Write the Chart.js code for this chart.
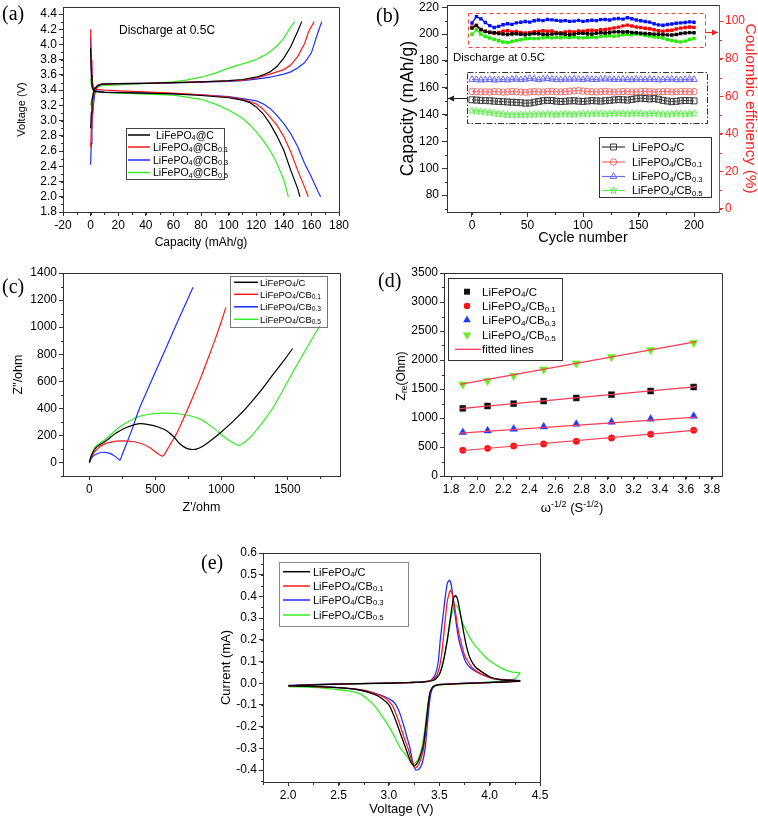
<!DOCTYPE html>
<html><head><meta charset="utf-8"><title>LiFePO4 composite figure</title>
<script src="https://cdn.jsdelivr.net/npm/chart.js@4.4.1/dist/chart.umd.min.js"></script>
<style>
html,body{margin:0;padding:0;background:#fff;overflow:hidden}
#wrap{position:relative;width:758px;height:818px;overflow:hidden;background:#fff}
#wrap canvas{position:absolute}
</style></head><body><div id="wrap"></div>
<script>
// ================= DATA =================
// (a) charge / discharge profiles: [capacity mAh/g, voltage V]
const chargeC    = [[0,2.9],[0.5,3.1],[1,3.25],[2,3.36],[3,3.42],[5,3.46],[8,3.48],[20,3.485],[40,3.49],[60,3.5],[80,3.51],[100,3.525],[110,3.54],[120,3.57],[125,3.6],[130,3.64],[135,3.71],[140,3.82],[145,3.97],[150,4.17],[153,4.3]];
const chargeCB01 = [[0,2.65],[0.5,2.9],[1,3.1],[2,3.3],[3,3.4],[5,3.46],[8,3.48],[20,3.485],[40,3.49],[60,3.5],[80,3.51],[100,3.52],[110,3.53],[120,3.56],[130,3.61],[140,3.67],[145,3.73],[150,3.84],[155,4.01],[158,4.17],[162,4.3]];
const chargeCB03 = [[0,2.42],[0.5,2.7],[1,2.95],[2,3.2],[3,3.35],[5,3.45],[8,3.48],[20,3.485],[40,3.49],[60,3.495],[80,3.505],[100,3.515],[110,3.525],[120,3.545],[130,3.57],[140,3.61],[145,3.64],[150,3.69],[155,3.76],[160,3.89],[163,4.06],[165,4.17],[167.5,4.3]];
const chargeCB05 = [[0,3.2],[1,3.3],[2,3.38],[4,3.43],[8,3.46],[20,3.47],[40,3.49],[60,3.51],[70,3.535],[80,3.57],[90,3.62],[100,3.69],[110,3.745],[120,3.8],[125,3.85],[130,3.905],[135,3.98],[140,4.08],[145,4.23],[148,4.3]];
const dischargeC    = [[0,3.95],[0.5,3.6],[1,3.45],[2,3.4],[4,3.38],[10,3.37],[30,3.365],[60,3.35],[80,3.33],[100,3.3],[110,3.27],[115,3.24],[120,3.18],[125,3.09],[130,2.96],[135,2.8],[140,2.61],[145,2.35],[150,2.11],[151.7,2.0]];
const dischargeCB01 = [[0,4.2],[0.5,3.8],[1,3.55],[2,3.45],[4,3.41],[10,3.4],[30,3.385],[60,3.36],[80,3.34],[100,3.31],[110,3.28],[120,3.22],[125,3.15],[130,3.05],[135,2.94],[140,2.79],[145,2.59],[150,2.35],[155,2.13],[157.7,2.0]];
const dischargeCB03 = [[0,4.1],[0.5,3.7],[1,3.5],[2,3.42],[4,3.39],[10,3.375],[30,3.37],[60,3.355],[80,3.34],[100,3.315],[110,3.29],[120,3.26],[125,3.22],[130,3.16],[135,3.07],[140,2.96],[145,2.83],[150,2.66],[155,2.44],[160,2.26],[165,2.06],[166.7,2.0]];
const dischargeCB05 = [[0,3.55],[0.5,3.48],[1,3.42],[2,3.4],[4,3.38],[10,3.37],[30,3.355],[60,3.335],[80,3.28],[90,3.22],[100,3.14],[110,3.03],[115,2.95],[120,2.855],[125,2.74],[130,2.61],[135,2.44],[140,2.22],[143.3,2.0]];
const aXTicks = [-20,0,20,40,60,80,100,120,140,160,180];
const aYTicks = [1.8,2.0,2.2,2.4,2.6,2.8,3.0,3.2,3.4,3.6,3.8,4.0,4.2,4.4];

// (b) cycling: capacity (mAh/g) and coulombic efficiency (%)
const cycles = [0,4,8,12,16,20,24,28,32,36,40,44,48,52,56,60,64,68,72,76,80,84,88,92,96,100,104,108,112,116,120,124,128,132,136,140,144,148,152,156,160,164,168,172,176,180,184,188,192,196,200];
const capC    = [151.0,150.8,150.6,150.4,150.3,150.0,149.8,149.6,149.4,149.2,149.1,148.8,148.5,148.6,149.2,149.8,150.3,150.6,150.4,150.0,149.7,149.9,150.2,150.3,150.0,149.8,150.1,150.4,150.2,150.0,150.3,150.6,150.9,151.2,151.0,150.8,151.3,151.8,152.2,152.0,151.6,151.9,151.4,150.6,150.1,149.6,149.9,150.3,150.5,150.4,150.2];
const capCB01 = [157.3,157.1,156.9,157.0,156.8,157.1,157.0,156.7,156.9,157.2,157.0,156.8,156.6,156.9,157.1,157.0,156.8,157.2,157.3,157.0,156.9,157.1,157.4,157.6,157.9,157.5,157.2,157.0,156.9,157.1,157.3,157.0,156.8,157.0,157.2,157.1,156.9,157.0,157.2,157.3,157.1,156.9,157.0,157.1,157.2,156.9,157.0,157.1,157.2,157.0,157.1];
const capCB03 = [166.2,166.0,165.8,165.9,166.1,165.7,165.9,166.0,165.8,166.2,166.4,166.0,166.3,166.9,166.5,166.0,166.5,166.8,166.3,166.1,165.9,166.4,166.2,166.5,166.3,166.0,166.6,166.2,166.1,166.4,166.5,166.3,166.0,166.2,166.4,166.1,165.9,166.3,166.2,166.0,166.3,166.1,165.8,166.0,166.2,166.3,166.0,165.9,166.2,166.3,166.1];
const capCB05 = [142.8,142.6,142.3,141.9,141.5,141.1,140.7,140.3,140.0,139.8,139.9,140.1,140.0,139.8,140.2,140.4,140.2,140.5,140.3,140.1,140.4,140.6,140.3,140.2,140.5,140.7,140.4,140.6,140.9,140.6,140.4,140.7,140.9,141.0,140.8,140.6,140.9,141.1,140.8,140.5,140.7,140.9,140.6,140.4,140.3,140.5,140.8,140.6,140.4,140.7,140.9];
const ceC    = [96.3,97.6,95.6,94.5,94.0,93.8,93.4,93.1,92.9,93.2,93.3,93.0,92.8,93.1,93.4,93.3,93.0,92.9,93.1,93.4,93.3,93.0,92.8,93.1,93.5,93.6,93.3,93.2,93.5,93.8,93.7,94.0,94.3,94.4,94.2,94.4,94.0,93.8,93.6,93.4,93.3,93.1,93.0,92.9,92.7,92.6,92.9,93.4,93.7,93.9,93.8];
const ceCB01 = [96.8,97.9,95.4,94.6,94.1,93.7,94.0,94.6,94.9,94.3,94.5,94.0,93.7,93.9,94.4,94.5,94.9,94.6,94.8,94.0,93.8,94.2,94.5,94.3,94.8,94.7,95.0,95.2,94.9,95.4,95.6,95.9,96.4,96.8,97.5,97.9,97.4,96.9,96.6,96.2,96.0,95.4,94.9,94.7,95.0,95.2,95.8,96.3,96.6,96.9,96.7];
const ceCB03 = [99.0,102.4,101.2,99.3,97.6,96.6,97.2,98.1,98.6,98.3,99.1,99.4,99.8,99.5,100.2,100.6,100.3,100.9,100.7,100.4,100.1,100.3,99.9,100.0,100.4,99.9,100.2,100.5,100.3,100.8,100.9,100.6,101.2,101.4,101.1,101.8,101.3,100.6,100.2,99.8,99.5,98.6,98.0,97.8,98.2,98.5,98.9,99.1,99.3,99.6,99.4];
const ceCB05 = [93.0,95.4,93.2,91.8,91.0,90.4,89.6,88.9,88.6,89.2,89.7,90.1,90.6,90.9,90.7,90.8,91.2,91.4,91.1,91.3,91.2,91.5,91.3,91.6,91.2,91.1,91.4,91.6,91.3,91.9,92.1,92.3,92.0,92.2,92.7,93.0,92.8,93.1,92.9,92.5,92.1,91.7,91.4,91.0,90.2,89.7,89.3,89.0,89.4,90.3,90.8];
const bXTicks = [0,50,100,150,200];
const bYTicks = [80,100,120,140,160,180,200,220];
const bY2Ticks = [0,20,40,60,80,100];
// (b) guide boxes and arrows (data coordinates)
const ceBoxX = [-3.6, 210], ceBoxY = [86.2, 104.2], ceArrowY = 94.2;
const capBoxX = [-4.5, 211.7], capBoxY = [134.1, 171.9], capArrowY = 152.6;

// (c) Nyquist plots: [Z' ohm, Z'' ohm]
const eisC    = [[0,0],[15,50],[50,110],[127,160],[200,215],[280,258],[380,287],[460,278],[520,262],[583,237],[640,190],[685,138],[730,108],[770,97],[810,98],[860,120],[938,175],[1000,225],[1091,305],[1200,415],[1300,530],[1400,660],[1480,760],[1540,842]];
const eisCB01 = [[0,0],[20,50],[50,90],[100,130],[170,152],[250,160],[330,155],[400,138],[460,108],[510,72],[540,52],[552,47],[565,55],[590,95],[620,145],[654,200],[700,295],[748,400],[800,520],[850,640],[900,770],[950,900],[1000,1040],[1035,1146]];
const eisCB03 = [[0,0],[15,30],[40,55],[80,72],[120,75],[160,65],[195,45],[220,25],[232,18],[250,60],[280,135],[320,235],[380,400],[440,535],[500,668],[560,800],[620,933],[680,1065],[740,1195],[786,1294]];
const eisCB05 = [[0,0],[15,55],[50,120],[127,175],[228,262],[300,305],[380,341],[480,360],[583,365],[680,358],[760,345],[837,322],[900,285],[964,237],[1020,190],[1080,150],[1129,126],[1150,132],[1190,160],[1243,212],[1320,305],[1395,410],[1509,607],[1547,675],[1650,850],[1750,1015],[1775,1055]];
const cXTicks = [0,500,1000,1500];
const cYTicks = [0,200,400,600,800,1000,1200,1400];

// (d) Warburg plot
const omegaInv = [1.89,2.08,2.28,2.51,2.76,3.03,3.33,3.66];
const zreC    = [1167,1207,1247,1293,1345,1402,1465,1534];
const zreCB01 = [443,477,517,552,598,655,719,788];
const zreCB03 = [753,781,810,850,896,931,983,1034];
const zreCB05 = [1581,1643,1729,1839,1943,2052,2172,2298];
const fitX = [1.87,3.68];
const fitC = [1160,1540], fitCB01 = [435,790], fitCB03 = [740,1015], fitCB05 = [1580,2316];
const dXTicks = [1.8,2.0,2.2,2.4,2.6,2.8,3.0,3.2,3.4,3.6,3.8];
const dYTicks = [0,500,1000,1500,2000,2500,3000,3500];

// (e) cyclic voltammetry loops: [V, mA]
const cvC = [[2.0,-0.012],[2.3,-0.006],[2.7,-0.002],[3.0,0.0],[3.2,0.003],[3.35,0.006],[3.45,0.015],[3.5,0.04],[3.54,0.1],[3.58,0.2],[3.61,0.3],[3.64,0.39],[3.66,0.405],[3.68,0.39],[3.71,0.32],[3.74,0.24],[3.77,0.17],[3.81,0.11],[3.86,0.075],[3.93,0.05],[4.0,0.03],[4.1,0.017],[4.3,0.01],[4.0,0.003],[3.7,-0.002],[3.5,-0.006],[3.44,-0.015],[3.41,-0.04],[3.39,-0.1],[3.365,-0.2],[3.34,-0.29],[3.3,-0.35],[3.27,-0.375],[3.245,-0.38],[3.22,-0.365],[3.19,-0.33],[3.16,-0.29],[3.12,-0.24],[3.09,-0.2],[3.05,-0.15],[3.0,-0.1],[2.93,-0.07],[2.85,-0.05],[2.7,-0.03],[2.5,-0.02],[2.2,-0.014],[2.0,-0.012]];
const cvCB01 = [[2.0,-0.012],[2.3,-0.006],[2.7,-0.002],[3.0,0.0],[3.2,0.003],[3.35,0.006],[3.43,0.015],[3.48,0.04],[3.52,0.12],[3.55,0.25],[3.58,0.38],[3.61,0.428],[3.63,0.41],[3.66,0.33],[3.69,0.24],[3.71,0.2],[3.75,0.13],[3.785,0.1],[3.83,0.07],[3.89,0.05],[3.95,0.035],[4.05,0.02],[4.3,0.01],[4.0,0.003],[3.7,-0.002],[3.5,-0.006],[3.44,-0.015],[3.41,-0.04],[3.39,-0.1],[3.37,-0.2],[3.345,-0.3],[3.31,-0.36],[3.28,-0.385],[3.26,-0.39],[3.24,-0.375],[3.215,-0.34],[3.19,-0.3],[3.15,-0.25],[3.115,-0.2],[3.07,-0.14],[3.03,-0.1],[2.97,-0.07],[2.88,-0.05],[2.75,-0.032],[2.5,-0.02],[2.2,-0.014],[2.0,-0.012]];
const cvCB03 = [[2.0,-0.01],[2.3,-0.005],[2.7,-0.002],[3.0,0.0],[3.2,0.003],[3.35,0.007],[3.42,0.015],[3.46,0.04],[3.49,0.1],[3.51,0.2],[3.54,0.32],[3.56,0.4],[3.58,0.46],[3.6,0.475],[3.62,0.45],[3.64,0.38],[3.67,0.27],[3.695,0.2],[3.73,0.14],[3.76,0.1],[3.81,0.07],[3.88,0.05],[3.95,0.035],[4.05,0.02],[4.3,0.012],[4.0,0.004],[3.7,-0.001],[3.5,-0.005],[3.45,-0.013],[3.42,-0.04],[3.4,-0.1],[3.38,-0.2],[3.36,-0.3],[3.33,-0.37],[3.3,-0.395],[3.27,-0.4],[3.25,-0.385],[3.23,-0.35],[3.21,-0.3],[3.18,-0.25],[3.15,-0.2],[3.11,-0.14],[3.07,-0.1],[3.03,-0.08],[2.95,-0.06],[2.85,-0.045],[2.7,-0.03],[2.5,-0.02],[2.2,-0.012],[2.0,-0.01]];
const cvCB05 = [[2.0,-0.015],[2.3,-0.008],[2.7,-0.003],[3.0,0.0],[3.2,0.004],[3.35,0.007],[3.45,0.015],[3.5,0.04],[3.54,0.1],[3.58,0.2],[3.62,0.31],[3.65,0.355],[3.67,0.36],[3.7,0.33],[3.73,0.28],[3.77,0.24],[3.83,0.19],[3.9,0.15],[3.96,0.12],[4.01,0.1],[4.08,0.08],[4.16,0.06],[4.24,0.05],[4.3,0.048],[4.25,0.02],[4.1,0.01],[3.8,0.0],[3.6,-0.004],[3.48,-0.01],[3.43,-0.025],[3.4,-0.06],[3.38,-0.12],[3.36,-0.2],[3.33,-0.29],[3.29,-0.35],[3.255,-0.37],[3.23,-0.371],[3.19,-0.345],[3.15,-0.32],[3.115,-0.3],[3.06,-0.25],[3.0,-0.2],[2.93,-0.15],[2.85,-0.1],[2.78,-0.07],[2.72,-0.05],[2.6,-0.035],[2.5,-0.03],[2.3,-0.02],[2.0,-0.015]];
const eXTicks = [2.0,2.5,3.0,3.5,4.0,4.5];
const eYTicks = [-0.4,-0.3,-0.2,-0.1,0.0,0.1,0.2,0.3,0.4,0.5,0.6];

// ================= RENDERING =================
const F = "'Liberation Sans', Arial, Helvetica, sans-serif";
const SERIF = "'Liberation Serif', 'Times New Roman', serif";
Chart.defaults.font.family = F;
Chart.defaults.font.size = 12;
Chart.defaults.color = '#000';

const BLK = '#000000', RED = '#ff1a1a', BLU = '#1f2eff', GRN = '#33ee22';

const pts = arr => arr.map(p => ({x: p[0], y: p[1]}));
const zip = (xs, ys) => xs.map((x, i) => ({x, y: ys[i]}));

function parseRich(s){
  const out = []; let i = 0, buf = '';
  while (i < s.length){
    const c = s[i];
    if ((c === '_' || c === '^') && i + 1 < s.length){
      if (buf){ out.push({t: buf, m: 0}); buf = ''; }
      let t;
      if (s[i+1] === '{'){ const j = s.indexOf('}', i); t = s.slice(i+2, j); i = j + 1; }
      else { t = s[i+1]; i += 2; }
      out.push({t, m: c === '_' ? 1 : 2});
    } else { buf += c; i++; }
  }
  if (buf) out.push({t: buf, m: 0});
  return out;
}
function drawRich(ctx, s, x, y, size, color, align, fam){
  fam = fam || F;
  const segs = parseRich(s);
  let w = 0;
  for (const g of segs){ ctx.font = (g.m ? size*0.7 : size) + 'px ' + fam; w += ctx.measureText(g.t).width; }
  let cx = align === 'center' ? x - w/2 : align === 'right' ? x - w : x;
  const base = y + size*0.36;
  ctx.fillStyle = color; ctx.textBaseline = 'alphabetic'; ctx.textAlign = 'left';
  for (const g of segs){
    const fs = g.m ? size*0.7 : size;
    ctx.font = fs + 'px ' + fam;
    const by = g.m === 1 ? base + size*0.12 : g.m === 2 ? base - size*0.38 : base;
    ctx.fillText(g.t, cx, by);
    cx += ctx.measureText(g.t).width;
  }
}
function drawMarker(ctx, style, x, y, r, fill, stroke){
  ctx.beginPath();
  if (style === 'rect'){ const h = r/Math.SQRT2; ctx.rect(x-h, y-h, 2*h, 2*h); }
  else if (style === 'circle'){ ctx.arc(x, y, r, 0, Math.PI*2); }
  else if (style === 'triangle'){ ctx.moveTo(x, y-r); ctx.lineTo(x - r*0.866, y + r*0.5); ctx.lineTo(x + r*0.866, y + r*0.5); ctx.closePath(); }
  else if (style === 'triangleDown'){ ctx.moveTo(x, y+r); ctx.lineTo(x - r*0.866, y - r*0.5); ctx.lineTo(x + r*0.866, y - r*0.5); ctx.closePath(); }
  else if (style === 'star'){ for (let i = 0; i < 10; i++){ const rr = i % 2 ? r*0.45 : r; const a = -Math.PI/2 + i*Math.PI/5; const px = x + rr*Math.cos(a), py = y + rr*Math.sin(a); i ? ctx.lineTo(px, py) : ctx.moveTo(px, py); } ctx.closePath(); }
  if (fill){ ctx.fillStyle = fill; ctx.fill(); }
  if (stroke){ ctx.strokeStyle = stroke; ctx.lineWidth = 1; ctx.stroke(); }
}
function starImg(color, r){
  const s = Math.ceil(2*r + 3); const c = document.createElement('canvas'); c.width = s; c.height = s;
  const g = c.getContext('2d'); drawMarker(g, 'star', s/2, s/2, r, null, color); return c;
}
function drawLegend(ctx, L){
  const [x1, y1, x2, y2] = L.box;
  ctx.fillStyle = '#fff'; ctx.fillRect(x1, y1, x2-x1, y2-y1);
  ctx.strokeStyle = L.border; ctx.lineWidth = 1;
  ctx.strokeRect(Math.round(x1)+0.5, Math.round(y1)+0.5, Math.round(x2-x1), Math.round(y2-y1));
  for (const r of L.rows){
    if (r.line){ ctx.strokeStyle = r.lc; ctx.lineWidth = r.lw || 1.5; ctx.beginPath(); ctx.moveTo(r.line[0], r.y); ctx.lineTo(r.line[1], r.y); ctx.stroke(); }
    if (r.marker) drawMarker(ctx, r.marker.style, r.marker.x, r.y, r.marker.r, r.marker.fill, r.marker.stroke);
    drawRich(ctx, r.label, r.tx || L.textX, r.y, L.size, '#000', 'left');
  }
}

const DECO = {};
const decoPlugin = {
  id: 'deco',
  afterDraw(chart){
    const d = DECO[chart.canvas.id]; if (!d) return;
    const ctx = chart.ctx, a = chart.chartArea;
    ctx.save();
    const L = Math.round(a.left)+0.5, T = Math.round(a.top)+0.5, R = Math.round(a.right)+0.5, B = Math.round(a.bottom)+0.5;
    ctx.strokeStyle = d.frame || '#333'; ctx.lineWidth = 1; ctx.setLineDash([]);
    ctx.beginPath(); ctx.moveTo(L, T); ctx.lineTo(R, T);
    if (!d.noRight) ctx.lineTo(R, B);
    ctx.stroke();
    for (const m of (d.minor || [])){
      const s = chart.scales[m.scale];
      ctx.strokeStyle = m.color || '#333';
      const k0 = Math.ceil(s.min / m.step - 1e-6), k1 = Math.floor(s.max / m.step + 1e-6);
      ctx.beginPath();
      for (let k = k0; k <= k1; k++){
        const p = Math.round(s.getPixelForValue(k * m.step)) + 0.5;
        if (m.side === 'bottom'){ ctx.moveTo(p, B); ctx.lineTo(p, B + m.len); }
        else if (m.side === 'left'){ ctx.moveTo(L, p); ctx.lineTo(L - m.len, p); }
        else { ctx.moveTo(R, p); ctx.lineTo(R + m.len, p); }
      }
      ctx.stroke();
    }
    if (d.extra) d.extra(chart, ctx);
    ctx.translate(-d.off.x, -d.off.y);
    for (const t of (d.texts || [])){
      if (t.rot){ ctx.save(); ctx.translate(t.x, t.y); ctx.rotate(t.rot); drawRich(ctx, t.s, 0, 0, t.size, t.color || '#000', 'center', t.fam); ctx.restore(); }
      else drawRich(ctx, t.s, t.x, t.y, t.size, t.color || '#000', t.align || 'left', t.fam);
    }
    if (d.legend) drawLegend(ctx, d.legend);
    ctx.restore();
  }
};

function axis(o){
  const col = o.color || '#333';
  return {
    type: 'linear', position: o.pos, min: o.min, max: o.max,
    afterBuildTicks: s => { s.ticks = o.ticks.map(v => ({value: v})); },
    afterFit: s => { if (o.horizontal) s.height = o.size; else s.width = o.size; s.paddingTop = 0; s.paddingBottom = 0; s.paddingLeft = 0; s.paddingRight = 0; },
    grid: {display: true, drawOnChartArea: false, drawTicks: true, tickLength: o.tickLen || 4, color: col, lineWidth: 1},
    border: {display: true, color: col, width: 1},
    ticks: {color: o.tickColor || '#000', padding: o.tickPad == null ? 2 : o.tickPad, font: {size: o.fontSize || 12}, maxRotation: 0, autoSkip: false, callback: v => o.fmt(v)},
    title: o.title ? {display: true, text: o.title, color: o.titleColor || '#000', font: {size: o.titleSize || 12}, padding: {top: o.titlePad, bottom: o.titlePad}} : {display: false}
  };
}

function build(id, box, area, ax, datasets, deco){
  const c = document.createElement('canvas');
  c.id = id; c.width = box.w; c.height = box.h;
  c.style.left = box.x + 'px'; c.style.top = box.y + 'px';
  c.style.width = box.w + 'px'; c.style.height = box.h + 'px';
  document.getElementById('wrap').appendChild(c);
  DECO[id] = Object.assign({off: box}, deco);
  ax.x.size = box.y + box.h - area.b; ax.x.horizontal = true; ax.x.pos = 'bottom';
  ax.y.size = area.l - box.x; ax.y.pos = 'left';
  const scales = {x: axis(ax.x), y: axis(ax.y)};
  if (ax.y2){ ax.y2.size = box.x + box.w - area.r; ax.y2.pos = 'right'; scales.y2 = axis(ax.y2); }
  return new Chart(c, {
    type: 'scatter',
    data: {datasets},
    options: {
      responsive: false, animation: false, devicePixelRatio: 1, events: [],
      layout: {padding: {left: 0, top: area.t - box.y, right: ax.y2 ? 0 : (box.x + box.w - area.r), bottom: 0}},
      plugins: {legend: {display: false}, tooltip: {enabled: false}},
      scales
    },
    plugins: [decoPlugin]
  });
}
const line = (data, color, w, tension) => ({data, showLine: true, borderColor: color, borderWidth: w || 1.2, pointRadius: 0, tension: tension || 0, fill: false});
const f0 = v => String(Math.round(v));
const f1 = v => (Math.abs(v) < 1e-9 ? 0 : v).toFixed(1);

// ---------- (a) ----------
build('pa', {x:0, y:0, w:370, h:260}, {l:63, t:7, r:339, b:212},
  {x: {min:-20, max:180, ticks:aXTicks, fmt:f0, title:'Capacity (mAh/g)', titleSize:12, titlePad:10},
   y: {min:1.8, max:4.492, ticks:aYTicks, fmt:f1, title:'Voltage (V)', titleSize:11, titlePad:15.5}},
  [line(pts(chargeC), BLK), line(pts(dischargeC), BLK),
   line(pts(chargeCB01), RED), line(pts(dischargeCB01), RED),
   line(pts(chargeCB03), BLU), line(pts(dischargeCB03), BLU),
   line(pts(chargeCB05), GRN), line(pts(dischargeCB05), GRN)],
  {minor: [{scale:'x', step:10, len:2.5, side:'bottom'}, {scale:'y', step:0.1, len:2.5, side:'left'}],
   texts: [{s:'(a)', x:2, y:13, size:20, fam:SERIF}, {s:'Discharge at 0.5C', x:119, y:30, size:12}],
   legend: {box:[126,128,224,179], border:'#444', size:10.5, textX:153, rows:[
     {y:135, label:'LiFePO_4@C', line:[128,150], lc:BLK, tx:156},
     {y:147, label:'LiFePO_4@CB_{0.1}', line:[128,150], lc:RED},
     {y:160, label:'LiFePO_4@CB_{0.3}', line:[128,150], lc:BLU},
     {y:172.5, label:'LiFePO_4@CB_{0.5}', line:[128,150], lc:GRN}]}});

// ---------- (b) ----------
const capCol = ['#3a3a3a', '#f26a6a', '#6a6af5', '#66e855'];
const capDs = (vals, col, style, r) => ({data: zip(cycles, vals), yAxisID: 'y', showLine: true, borderColor: col, borderWidth: 1,
  pointStyle: style, pointRadius: r, pointBackgroundColor: 'rgba(255,255,255,0)', pointBorderColor: col, pointBorderWidth: 1});
const ceDs = (vals, col) => ({data: zip(cycles, vals), yAxisID: 'y2', showLine: true, borderColor: col, borderWidth: 1.3,
  pointStyle: 'rect', pointRadius: 2.4, pointBackgroundColor: col, pointBorderColor: col, pointBorderWidth: 0});
build('pb', {x:370, y:0, w:394, h:260}, {l:447, t:4, r:719, b:212},
  {x: {min:-22.5, max:222.5, ticks:bXTicks, fmt:f0, title:'Cycle number', titleSize:14.5, titlePad:13, tickLen:5, tickPad:1},
   y: {min:67.4, max:221.5, ticks:bYTicks, fmt:f0, title:'Capacity (mAh/g)', titleSize:17.5, titlePad:27.5, tickLen:5, tickPad:3},
   y2:{min:-1.6, max:108.5, ticks:bY2Ticks, fmt:f0, title:'Coulombic efficiency (%)', titleSize:15.5, titlePad:4, color:'#ff2020', tickColor:'#ff2020', titleColor:'#ff2020', tickLen:4, tickPad:2}},
  [capDs(capC, capCol[0], 'rect', 4.2), capDs(capCB01, capCol[1], 'circle', 3.2),
   capDs(capCB03, capCol[2], 'triangle', 3.8), capDs(capCB05, capCol[3], starImg(capCol[3], 3.8), 3.8),
   ceDs(ceC, BLK), ceDs(ceCB01, '#ff0000'), ceDs(ceCB03, '#0010ff'), ceDs(ceCB05, '#22ee00')],
  {noRight: true,
   minor: [{scale:'x', step:25, len:2.5, side:'bottom'}, {scale:'y', step:10, len:2.5, side:'left'}, {scale:'y2', step:10, len:2.5, side:'right', color:'#ff2020'}],
   extra(chart, ctx){
     const x = chart.scales.x, y = chart.scales.y, y2 = chart.scales.y2, a = chart.chartArea;
     ctx.lineWidth = 1;
     ctx.strokeStyle = '#ff4040'; ctx.setLineDash([4, 3]);
     const x1 = x.getPixelForValue(ceBoxX[0]), x2 = x.getPixelForValue(ceBoxX[1]);
     const t1 = y2.getPixelForValue(ceBoxY[1]), t2 = y2.getPixelForValue(ceBoxY[0]);
     ctx.strokeRect(Math.round(x1)+0.5, Math.round(t1)+0.5, Math.round(x2-x1), Math.round(t2-t1));
     ctx.strokeStyle = '#333'; ctx.setLineDash([6, 2, 1.5, 2]);
     const c1 = x.getPixelForValue(capBoxX[0]), c2 = x.getPixelForValue(capBoxX[1]);
     const u1 = y.getPixelForValue(capBoxY[1]), u2 = y.getPixelForValue(capBoxY[0]);
     ctx.strokeRect(Math.round(c1)+0.5, Math.round(u1)+0.5, Math.round(c2-c1), Math.round(u2-u1));
     ctx.setLineDash([]);
     const arrow = (xs, xe, yy, col) => {
       ctx.strokeStyle = col; ctx.fillStyle = col; ctx.beginPath(); ctx.moveTo(xs, yy); ctx.lineTo(xe, yy); ctx.stroke();
       const dir = Math.sign(xe - xs); ctx.beginPath(); ctx.moveTo(xe, yy); ctx.lineTo(xe - dir*6, yy - 3); ctx.lineTo(xe - dir*6, yy + 3); ctx.closePath(); ctx.fill();
     };
     arrow(c1, a.left + 1, Math.round(y.getPixelForValue(capArrowY)) + 0.5, '#222');
     arrow(x2, a.right - 1, Math.round(y2.getPixelForValue(ceArrowY)) + 0.5, '#ff2020');
   },
   texts: [{s:'(b)', x:376, y:15, size:20, fam:SERIF}, {s:'Discharge at 0.5C', x:453, y:57, size:11.5}],
   legend: {box:[599,137,711,197], border:'#333', size:11, textX:632, rows:[
     {y:147, label:'LiFePO_4/C', line:[602,625], lc:capCol[0], lw:1.2, marker:{style:'rect', x:613.5, r:4.2, stroke:capCol[0]}},
     {y:162, label:'LiFePO_4/CB_{0.1}', line:[602,625], lc:capCol[1], lw:1.2, marker:{style:'circle', x:613.5, r:3.2, stroke:capCol[1]}},
     {y:176.5, label:'LiFePO_4/CB_{0.3}', line:[602,625], lc:capCol[2], lw:1.2, marker:{style:'triangle', x:613.5, r:3.8, stroke:capCol[2]}},
     {y:190.5, label:'LiFePO_4/CB_{0.5}', line:[602,625], lc:capCol[3], lw:1.2, marker:{style:'star', x:613.5, r:3.8, stroke:capCol[3]}}]}});

// ---------- (c) ----------
build('pc', {x:0, y:260, w:370, h:260}, {l:63, t:273, r:340, b:476},
  {x: {min:-200, max:1900, ticks:cXTicks, fmt:f0, title:"Z'/ohm", titleSize:12.5, titlePad:4.5},
   y: {min:-100, max:1400, ticks:cYTicks, fmt:f0, title:'Z"/ohm', titleSize:12.5, titlePad:11}},
  [line(pts(eisC), BLK, 1.2, 0.3), line(pts(eisCB01), RED, 1.2, 0.3), line(pts(eisCB03), BLU, 1.2, 0.3), line(pts(eisCB05), GRN, 1.2, 0.3)],
  {minor: [{scale:'x', step:250, len:2.5, side:'bottom'}, {scale:'y', step:100, len:2.5, side:'left'}],
   texts: [{s:'(c)', x:2, y:286, size:20, fam:SERIF}],
   legend: {box:[230,275.5,327,326], border:'#777', size:9.5, textX:260, rows:[
     {y:282.3, label:'LiFePO_4/C', line:[234,258], lc:BLK},
     {y:294.3, label:'LiFePO_4/CB_{0.1}', line:[234,258], lc:RED},
     {y:306.8, label:'LiFePO_4/CB_{0.3}', line:[234,258], lc:BLU},
     {y:319.3, label:'LiFePO_4/CB_{0.5}', line:[234,258], lc:GRN}]}});

// ---------- (d) ----------
const FIT = '#ff3a55';
const mk = (xs, ys, col, style, r, rot) => ({data: zip(xs, ys), showLine: false, pointStyle: style, pointRadius: r, pointRotation: rot || 0, pointBackgroundColor: col, pointBorderColor: col, pointBorderWidth: 0.5});
build('pd', {x:370, y:260, w:388, h:260}, {l:444, t:273, r:722, b:476},
  {x: {min:1.746, max:3.877, ticks:dXTicks, fmt:f1, tickPad:2},
   y: {min:0, max:3500, ticks:dYTicks, fmt:f0}},
  [line(zip(fitX, fitC), FIT, 1.2), line(zip(fitX, fitCB01), FIT, 1.2), line(zip(fitX, fitCB03), FIT, 1.2), line(zip(fitX, fitCB05), FIT, 1.2),
   mk(omegaInv, zreC, '#111', 'rect', 4.2), mk(omegaInv, zreCB01, '#ff1010', 'circle', 3.2),
   mk(omegaInv, zreCB03, '#1a3cff', 'triangle', 4.4), mk(omegaInv, zreCB05, '#66ee22', 'triangle', 4.8, 180)],
  {minor: [{scale:'x', step:0.1, len:2.5, side:'bottom'}, {scale:'y', step:250, len:2.5, side:'left'}],
   texts: [{s:'(d)', x:378, y:280, size:20, fam:SERIF},
     {s:'ω^{-1/2} (S^{-1/2})', x:572, y:507, size:13, align:'center'},
     {s:'Z_{re}(Ohm)', x:401, y:376, size:12, rot:-Math.PI/2}],
   legend: {box:[448,278,562,360], border:'#333', size:11.5, textX:482, rows:[
     {y:291.7, label:'LiFePO_4/C', marker:{style:'rect', x:467, r:4.2, fill:'#111'}},
     {y:306, label:'LiFePO_4/CB_{0.1}', marker:{style:'circle', x:467, r:3.2, fill:'#ff1010'}},
     {y:320, label:'LiFePO_4/CB_{0.3}', marker:{style:'triangle', x:467, r:4.4, fill:'#1a3cff'}},
     {y:335, label:'LiFePO_4/CB_{0.5}', marker:{style:'triangleDown', x:467, r:4.8, fill:'#66ee22'}},
     {y:349.3, label:'fitted lines', line:[455,481], lc:FIT, lw:1.3}]}});

// ---------- (e) ----------
build('pe', {x:195, y:528, w:370, h:290}, {l:263, t:553, r:540, b:782},
  {x: {min:1.75, max:4.5, ticks:eXTicks, fmt:f1, title:'Voltage (V)', titleSize:13, titlePad:0.5},
   y: {min:-0.455, max:0.6, ticks:eYTicks, fmt:f1, title:'Current (mA)', titleSize:13, titlePad:24}},
  [line(pts(cvC), BLK, 1.3, 0.2), line(pts(cvCB01), RED, 1.3, 0.2), line(pts(cvCB03), BLU, 1.3, 0.2), line(pts(cvCB05), GRN, 1.3, 0.2)],
  {minor: [{scale:'x', step:0.25, len:2.5, side:'bottom'}, {scale:'y', step:0.05, len:2.5, side:'left'}],
   texts: [{s:'(e)', x:201, y:562, size:20, fam:SERIF}],
   legend: {box:[279,562,408,626], border:'#888', size:11, textX:313, rows:[
     {y:571.7, label:'LiFePO_4/C', line:[283,310], lc:BLK},
     {y:586, label:'LiFePO_4/CB_{0.1}', line:[283,310], lc:RED},
     {y:600, label:'LiFePO_4/CB_{0.3}', line:[283,310], lc:BLU},
     {y:615, label:'LiFePO_4/CB_{0.5}', line:[283,310], lc:GRN}]}});
</script>
</body></html>
